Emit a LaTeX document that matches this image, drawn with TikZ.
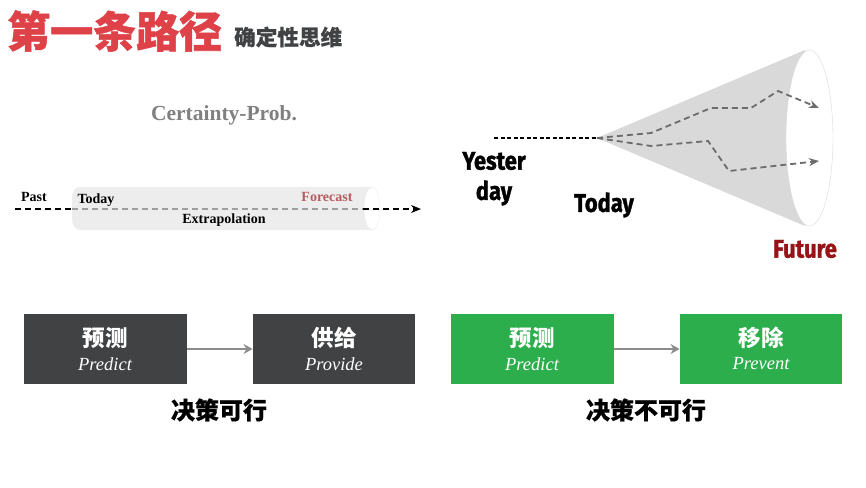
\documentclass[tikz,border=0pt]{standalone}
\usepackage{fontspec}
\usetikzlibrary{arrows.meta}
\setmainfont{Liberation Serif}
\newfontfamily\cjk{Noto Sans CJK SC}
\newfontfamily\cjkfat[BoldFeatures={FakeBold=1.2}]{Noto Sans CJK SC}
\newfontfamily\cjkmid[BoldFeatures={FakeBold=0.4}]{Noto Sans CJK SC}
\newfontfamily\heavy[BoldFeatures={FakeBold=1.5}]{Fira Sans}
\definecolor{titlered}{RGB}{222,66,72}
\definecolor{boxgray}{RGB}{64,66,68}
\definecolor{boxgreen}{RGB}{44,174,76}
\definecolor{darkred}{RGB}{150,20,24}
\tikzset{
  fbox/.style={minimum width=162.5,minimum height=70,inner sep=0,text=white},
  cnlabel/.style={font=\cjk\bfseries\fontsize{22.5}{22}\selectfont,inner sep=0},
  enlabel/.style={font=\itshape\fontsize{18.5}{18}\selectfont,inner sep=0},
  caption/.style={font=\cjkmid\bfseries\fontsize{24}{24}\selectfont,inner sep=0},
  small/.style={font=\bfseries\fontsize{14}{14}\selectfont,inner sep=0},
  fat/.style={font=\heavy\bfseries\fontsize{25.5}{25}\selectfont,inner sep=0,xscale=0.86},
  dashline/.style={dash pattern=on 6pt off 4pt,line width=1.8pt},
  dashtip/.style={-{Stealth[length=10pt,width=8pt]}},
  flow/.style={draw=gray!90,line width=2.6pt,-{Stealth[length=9pt,width=10pt]}}
}
\begin{document}
\begin{tikzpicture}[x=1pt,y=-1pt]
    \useasboundingbox (0,0) rectangle (866,487);
    % heading
    \node[anchor=west,inner sep=0,text=titlered,font=\cjkfat\bfseries\fontsize{43}{43}\selectfont] (title) at (7,31) {第一条路径};
    \node[anchor=west,inner sep=0,text=boxgray,font=\cjkmid\bfseries\fontsize{21.6}{22}\selectfont] (subtitle) at (234,37) {确定性思维};
    \node[inner sep=0,text=gray,font=\bfseries\fontsize{21.5}{21}\selectfont] (prob) at (224,115) {Certainty-Prob.};
    % left picture
    \fill[gray!14] (80,187) -- (372,187) -- (372,230) -- (80,230)
      .. controls (74,230) and (72,224) .. (72,218) -- (72,199)
      .. controls (72,192) and (74,187) .. (80,187);
    \filldraw[fill=white,draw=gray!15] (372,208.5) ellipse(8 and 21.5);
    \coordinate (p0) at (15,209);
    \coordinate (p1) at (72,209);
    \coordinate (p2) at (363,209);
    \coordinate (p3) at (421,209);
    \draw[dashline,black] (p0) -- (p1);
    \draw[dashline,gray!75] (p1) -- (p2);
    \draw[dashline,black,dashtip] (p2) -- (p3);
    \node[small] (past) at (34,197) {Past};
    \node[small] (today) at (96,200) {Today};
    \node[small,text=titlered!60!gray] (forecast) at (327,197) {Forecast};
    \node[small] (extra) at (224,220) {Extrapolation};
    % right picture
    \coordinate (apex) at (597,138);
    \coordinate (prev) at (494,138);
    \fill[gray!30] (apex) -- (805,50) -- (805,226) -- cycle;
    \filldraw[fill=white,draw=gray!30] (809.5,138) ellipse(23.5 and 88);
    \draw[dashline,black,dash pattern=on 4pt off 2.5pt,line width=1.4pt] (prev) -- (apex);
    \draw[dashline,gray!85!black,dashtip] (apex) -- (651,133) -- (711,108) -- (751,108) -- (778,91) -- (819,108);
    \draw[dashline,gray!85!black,dashtip] (apex) -- (651,146) -- (708,141) -- (729,171) -- (819,161);
    \node[fat] (yester) at (494,161) {Yester};
    \node[fat] (day) at (494,193) {day};
    \node[fat] (now) at (604,205) {Today};
    \node[fat,text=darkred] (future) at (805,249) {Future};
    % boxes
    \node[fbox,fill=boxgray] (a) at (105.5,349) {};
    \node[fbox,fill=boxgray] (b) at (334,349) {};
    \node[fbox,fill=boxgreen] (c) at (532.5,349) {};
    \node[fbox,fill=boxgreen] (d) at (761,349) {};
    \draw[flow] (a) -- (b);
    \draw[flow] (c) -- (d);
    \node[cnlabel,text=white] (a1) at (105,338) {预测};
    \node[enlabel,text=white] (a2) at (105,364) {Predict};
    \node[cnlabel,text=white] (b1) at (334,338) {供给};
    \node[enlabel,text=white] (b2) at (334,364) {Provide};
    \node[cnlabel,text=white] (c1) at (532,338) {预测};
    \node[enlabel,text=white] (c2) at (532,364) {Predict};
    \node[cnlabel,text=white] (d1) at (761,338) {移除};
    \node[enlabel,text=white] (d2) at (761,364) {Prevent};
    \node[caption] (yes) at (219,410) {决策可行};
    \node[caption] (no) at (646,410) {决策不可行};
\end{tikzpicture}
\end{document}
